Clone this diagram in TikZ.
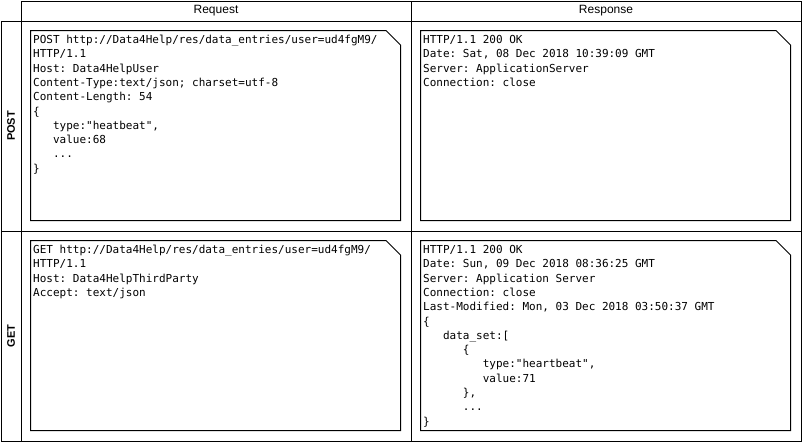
\documentclass[tikz,border=0pt]{standalone}
\usepackage{fontspec}
\setmainfont{Liberation Sans}
\setmonofont{DejaVu Sans Mono}
\begin{document}
\begin{tikzpicture}[x=1pt,y=-1pt,
  cell/.style={draw=black,line width=1pt,rectangle,inner sep=0pt,anchor=north west},
  headtxt/.style={font=\fontsize{12}{14}\selectfont},
  rowtxt/.style={font=\bfseries\fontsize{11}{13}\selectfont,rotate=90},
  notebox/.style={draw=black,line width=1pt,fill=white},
  code/.style={font=\ttfamily\fontsize{11}{14.3}\selectfont,align=left,anchor=north west,inner sep=0pt}]
\useasboundingbox (0,0) rectangle (802,442);
\fill[white] (0,0) rectangle (802,442);
% header cells
\node[cell,minimum width=390pt,minimum height=20pt] (hreq) at (20.5,0.5) {};
\node[cell,minimum width=390pt,minimum height=20pt] (hres) at (410.5,0.5) {};
\node[headtxt] (treq) at (hreq.center) {Request};
\node[headtxt] (tres) at (hres.center) {Response};
% row label cells
\node[cell,minimum width=20pt,minimum height=210pt] (lpost) at (0.5,20.5) {};
\node[cell,minimum width=20pt,minimum height=210pt] (lget) at (0.5,230.5) {};
\node[rowtxt] (tpost) at (lpost.center) {POST};
\node[rowtxt] (tget) at (lget.center) {GET};
% body cells
\node[cell,minimum width=390pt,minimum height=210pt] (c11) at (20.5,20.5) {};
\node[cell,minimum width=390pt,minimum height=210pt] (c12) at (410.5,20.5) {};
\node[cell,minimum width=390pt,minimum height=210pt] (c21) at (20.5,230.5) {};
\node[cell,minimum width=390pt,minimum height=210pt] (c22) at (410.5,230.5) {};
% notes
\draw[notebox] (30.5,30.5) -- (386,30.5) -- (400.5,45) -- (400.5,220.5) -- (30.5,220.5) -- cycle;
\draw[notebox] (420.5,30.5) -- (776,30.5) -- (790.5,45) -- (790.5,220.5) -- (420.5,220.5) -- cycle;
\draw[notebox] (30.5,240.5) -- (386,240.5) -- (400.5,255) -- (400.5,430.5) -- (30.5,430.5) -- cycle;
\draw[notebox] (420.5,240.5) -- (776,240.5) -- (790.5,255) -- (790.5,430.5) -- (420.5,430.5) -- cycle;
% texts
\node[code] (n11) at (33,33.3) {\strut POST http://Data4Help/res/data\_entries/user=ud4fgM9/\\
HTTP/1.1\\
Host: Data4HelpUser\\
Content-Type:text/json; charset=utf-8\\
Content-Length: 54\\
\{\\
\hphantom{000}type:"heatbeat",\\
\hphantom{000}value:68\\
\hphantom{000}...\\
\}};
\node[code] (n12) at (423,33.3) {\strut HTTP/1.1 200 OK\\
Date: Sat, 08 Dec 2018 10:39:09 GMT\\
Server: ApplicationServer\\
Connection: close};
\node[code] (n21) at (33,243.3) {\strut GET http://Data4Help/res/data\_entries/user=ud4fgM9/\\
HTTP/1.1\\
Host: Data4HelpThirdParty\\
Accept: text/json};
\node[code] (n22) at (423,243.3) {\strut HTTP/1.1 200 OK\\
Date: Sun, 09 Dec 2018 08:36:25 GMT\\
Server: Application Server\\
Connection: close\\
Last-Modified: Mon, 03 Dec 2018 03:50:37 GMT\\
\{\\
\hphantom{000}data\_set:[\\
\hphantom{000000}\{\\
\hphantom{000000000}type:"heartbeat",\\
\hphantom{000000000}value:71\\
\hphantom{000000}\},\\
\hphantom{000000}...\\
\}};
\end{tikzpicture}
\end{document}
